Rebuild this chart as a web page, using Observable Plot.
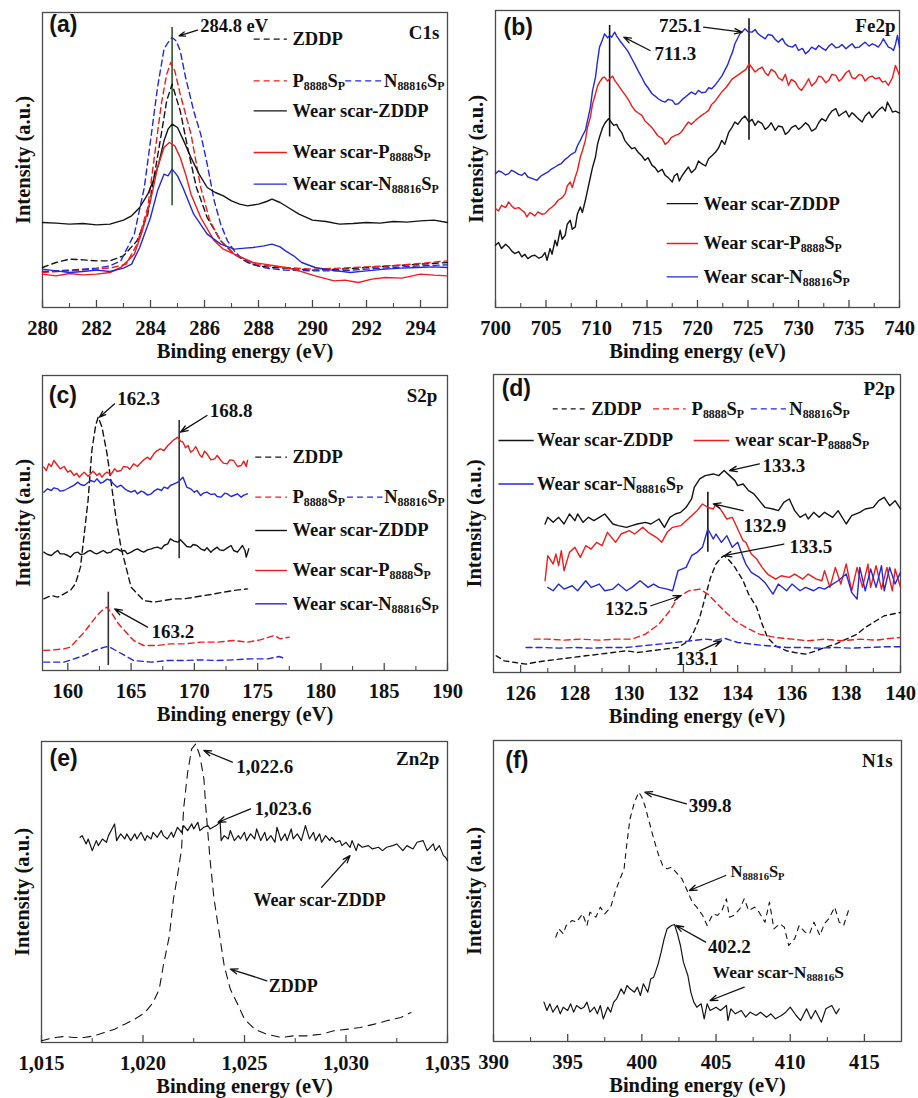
<!DOCTYPE html>
<html><head><meta charset="utf-8">
<script src="https://cdn.jsdelivr.net/npm/d3@7"></script>
<script src="https://cdn.jsdelivr.net/npm/@observablehq/plot@0.6"></script>
<style>
html,body{margin:0;padding:0;background:#fff;}
#fig{position:relative;width:918px;height:1098px;overflow:hidden;background:#fff;}
#fig > svg{position:absolute;overflow:visible;}
#fig svg text, #fig svg tspan{font-family:"Liberation Serif","Times New Roman",serif !important;font-weight:bold;}
</style></head><body><div id="fig"></div>
<script>
// ---------- (a) C1s ----------
const c1s_ZDDP = [[280,120],[280.5,135],[281,145],[281.5,143],[282,140],[282.5,140],[283,155],[283.5,200],[283.9,280],[284.15,400],[284.4,520],[284.6,620],[284.8,670],[285.1,590],[285.4,470],[285.7,360],[286.1,270],[286.6,200],[287.1,160],[287.6,135],[288,125],[288.5,120],[289,118],[290,112],[291,115],[292,120],[293,125],[294,130],[295,135]];
const c1s_P8888SP = [[280,105],[281,110],[282,115],[282.6,120],[283.1,130],[283.5,190],[283.9,300],[284.14,450],[284.4,610],[284.6,700],[284.75,735],[284.9,710],[285.1,640],[285.3,580],[285.5,520],[285.86,360],[286.2,260],[286.6,200],[287.1,160],[287.6,140],[288,128],[289,120],[290,115],[291,118],[292,122],[293,126],[294,132],[295,140]];
const c1s_N88816SP = [[280,108],[281,112],[282,118],[282.5,125],[282.9,140],[283.4,220],[283.77,360],[284.0,500],[284.26,660],[284.5,775],[284.65,795],[284.8,810],[284.95,800],[285.1,770],[285.3,690],[285.6,590],[285.86,520],[286.1,430],[286.36,320],[286.6,250],[286.85,200],[287.1,170],[287.4,145],[287.8,128],[288.3,118],[289,112],[290,110],[291,110],[292,115],[293,120],[294,125],[295,128]];
const c1s_wearZDDP = [[280,255],[280.5,253],[281,250],[281.5,252],[282,248],[282.5,250],[283,262],[283.3,275],[283.6,300],[283.9,340],[284.1,380],[284.3,430],[284.5,500],[284.65,535],[284.8,550],[285.0,540],[285.2,505],[285.5,450],[285.8,400],[286.1,360],[286.4,345],[286.7,335],[287,320],[287.3,310],[287.6,305],[288,310],[288.3,318],[288.5,325],[288.8,315],[289.1,300],[289.5,280],[290,262],[290.5,258],[291,250],[291.5,252],[292,255],[292.5,253],[293,258],[293.5,256],[294,260],[294.5,262],[295,255]];
const c1s_wearP8888SP = [[280,100],[280.5,95],[281,102],[281.5,98],[282,100],[282.5,105],[282.9,120],[283.4,160],[283.7,230],[284.0,320],[284.26,420],[284.5,480],[284.7,495],[284.9,485],[285.1,450],[285.3,400],[285.5,340],[285.86,270],[286.36,200],[286.7,175],[287.1,160],[287.8,135],[288.4,128],[289,120],[289.5,110],[290.1,95],[290.8,80],[291.2,82],[291.7,75],[292.2,85],[292.7,90],[293.3,88],[294,100],[294.5,97],[295,95]];
const c1s_wearN88816SP = [[280,115],[280.5,110],[281,105],[281.5,108],[282,112],[282.5,108],[283,118],[283.3,130],[283.6,180],[284.0,270],[284.26,350],[284.5,400],[284.65,395],[284.8,415],[285.0,395],[285.2,360],[285.6,280],[286.1,220],[286.6,190],[287.1,175],[287.5,178],[287.8,180],[288.2,185],[288.5,190],[288.8,182],[289,170],[289.3,155],[289.6,135],[290.1,120],[290.7,112],[291.4,105],[292,110],[292.7,115],[293.3,118],[293.9,120],[294.5,122],[295,120]];

// ---------- (b) Fe2p ----------
const fe2p_wearZDDP = [[700,187],[700.3,195],[700.6,177],[701,190],[701.3,182],[701.6,170],[701.9,162],[702.3,168],[702.6,152],[702.9,160],[703.2,147],[703.6,155],[703.9,157],[704.3,148],[704.6,152],[704.9,165],[705.1,142],[705.4,177],[705.6,160],[705.9,202],[706.1,185],[706.4,232],[706.6,205],[706.9,217],[707.1,250],[707.4,262],[707.6,235],[707.9,242],[708.1,280],[708.4,302],[708.6,285],[708.9,322],[709.1,350],[709.4,392],[709.6,420],[709.9,452],[710.1,490],[710.3,512],[710.6,540],[710.8,552],[711.0,560],[711.2,567],[711.5,555],[711.7,547],[712.0,550],[712.2,537],[712.5,525],[712.8,502],[713.1,490],[713.5,477],[713.8,480],[714.1,467],[714.5,455],[714.8,442],[715.1,450],[715.5,427],[715.8,420],[716.1,407],[716.5,415],[716.8,397],[717.1,390],[717.5,377],[717.7,395],[718.0,402],[718.2,380],[718.4,392],[718.8,410],[719.1,422],[719.4,405],[719.8,417],[720.1,440],[720.4,432],[720.8,425],[721.1,447],[721.4,455],[721.8,467],[722.1,480],[722.4,502],[722.7,490],[723.1,527],[723.4,540],[723.7,557],[724.0,550],[724.4,567],[724.7,575],[725.1,557],[725.4,565],[725.7,547],[726.0,560],[726.4,552],[726.7,535],[727.0,542],[727.3,555],[727.7,532],[728.0,545],[728.4,542],[728.7,520],[729.0,527],[729.3,540],[729.7,547],[730.0,535],[730.3,542],[730.7,555],[731.0,547],[731.3,530],[731.7,537],[732.0,555],[732.3,567],[732.7,560],[733.0,577],[733.3,590],[733.7,597],[734.0,575],[734.3,582],[734.7,590],[735.0,572],[735.3,585],[735.6,577],[736.0,565],[736.3,557],[736.6,575],[737.0,587],[737.3,570],[737.6,582],[738.0,595],[738.3,602],[738.6,590],[738.8,617],[739.1,600],[739.3,587],[739.6,590],[740,584]];
const fe2p_wearP8888SP = [[700,297],[700.3,290],[700.6,307],[701.0,300],[701.3,317],[701.6,305],[701.9,297],[702.3,300],[702.6,292],[702.9,285],[703.1,272],[703.4,285],[703.6,282],[703.9,275],[704.2,287],[704.6,280],[704.9,282],[705.3,295],[705.6,302],[705.9,310],[706.2,322],[706.6,330],[706.9,342],[707.1,365],[707.4,377],[707.6,360],[707.9,392],[708.1,410],[708.4,452],[708.6,470],[708.9,502],[709.1,540],[709.4,572],[709.6,610],[709.9,642],[710.1,665],[710.3,677],[710.6,690],[710.8,692],[711.1,680],[711.3,687],[711.6,695],[711.8,682],[712.1,670],[712.5,652],[712.8,640],[713.2,622],[713.5,605],[713.8,592],[714.1,585],[714.5,577],[714.8,560],[715.1,552],[715.5,540],[715.8,527],[716.1,515],[716.5,507],[716.8,490],[717.1,497],[717.4,510],[717.8,517],[718.1,520],[718.4,527],[718.8,545],[719.1,557],[719.4,550],[719.8,562],[720.1,570],[720.4,577],[720.8,585],[721.1,592],[721.4,610],[721.8,622],[722.1,635],[722.4,647],[722.8,660],[723.1,672],[723.4,685],[723.7,692],[724.1,700],[724.4,707],[724.8,715],[725.1,732],[725.4,720],[725.7,707],[726.0,715],[726.4,722],[726.7,705],[727.0,697],[727.3,715],[727.7,707],[728.0,690],[728.4,682],[728.7,700],[729.0,667],[729.3,685],[729.7,677],[730.0,660],[730.3,652],[730.7,670],[731.0,687],[731.3,665],[731.7,677],[732.0,695],[732.3,692],[732.7,675],[733.0,682],[733.3,700],[733.7,697],[734.0,680],[734.3,687],[734.7,705],[735.0,712],[735.3,690],[735.6,687],[736.0,700],[736.3,697],[736.6,680],[737.0,692],[737.3,695],[737.6,687],[738.0,690],[738.3,677],[738.6,680],[738.9,667],[739.3,690],[739.6,727],[740,697]];
const fe2p_wearN88816SP = [[700,402],[700.3,410],[700.6,407],[701.0,398],[701.3,402],[701.6,412],[701.9,407],[702.3,400],[702.6,397],[702.9,405],[703.2,392],[703.6,388],[704.1,382],[704.4,392],[704.6,397],[704.9,402],[705.2,407],[705.5,415],[705.9,422],[706.2,428],[706.5,432],[706.9,445],[707.2,452],[707.5,460],[707.9,467],[708.1,485],[708.4,502],[708.6,515],[708.9,532],[709.1,560],[709.4,602],[709.6,650],[709.9,692],[710.1,740],[710.3,782],[710.6,805],[710.8,822],[711.1,810],[711.3,817],[711.5,812],[711.8,827],[712.0,815],[712.3,802],[712.6,790],[712.8,782],[713.1,770],[713.5,747],[713.8,730],[714.1,712],[714.5,690],[714.8,672],[715.1,660],[715.5,642],[715.8,635],[716.1,627],[716.5,620],[716.8,617],[717.1,625],[717.5,622],[717.8,610],[718.1,612],[718.5,625],[718.8,632],[719.1,640],[719.4,647],[719.8,640],[720.1,652],[720.4,645],[720.8,647],[721.1,660],[721.4,657],[721.8,670],[722.1,682],[722.4,695],[722.7,712],[723.0,730],[723.2,747],[723.5,770],[723.7,792],[724.0,810],[724.2,822],[724.5,830],[724.7,837],[725.0,828],[725.4,827],[725.7,835],[726.0,822],[726.3,815],[726.7,807],[727.0,820],[727.4,817],[727.7,805],[728.0,797],[728.4,808],[728.7,792],[729.0,785],[729.4,782],[729.7,790],[730.0,772],[730.4,778],[730.7,762],[731.0,770],[731.3,782],[731.7,775],[732.0,787],[732.3,780],[732.7,772],[733.0,785],[733.3,792],[733.7,780],[734.0,782],[734.3,790],[734.7,777],[735.0,785],[735.3,792],[735.6,780],[736.0,782],[736.3,790],[736.6,797],[737.0,785],[737.3,792],[737.6,788],[737.9,782],[738.2,795],[738.4,807],[738.7,792],[738.9,782],[739.2,778],[739.4,772],[739.6,790],[739.8,817],[740,782]];

// ---------- (c) S2p ----------
const s2p_ZDDP = [[158.1,215],[158.7,225],[159.2,220],[159.7,230],[160.2,240],[160.6,260],[161.0,310],[161.3,410],[161.6,510],[161.9,660],[162.2,735],[162.4,760],[162.7,730],[163.1,650],[163.4,570],[163.8,460],[164.2,370],[164.6,310],[165.0,250],[165.5,230],[166.0,210],[166.8,205],[167.6,210],[168.4,215],[169.2,215],[170.0,220],[170.8,225],[171.6,230],[172.3,235],[173.1,240],[174.2,245]];
const s2p_P8888SP = [[158.1,60],[158.9,62],[159.7,65],[160.2,70],[160.8,95],[161.3,115],[161.8,140],[162.3,165],[162.7,180],[163.1,190],[163.5,170],[164.0,140],[164.6,115],[165.2,90],[166.0,75],[167.1,75],[168.1,80],[169.2,80],[170.5,85],[171.8,85],[173.1,90],[174.2,85],[175.2,92],[176.3,105],[176.8,95],[177.5,100]];
const s2p_N88816SP = [[158.1,25],[158.9,25],[159.7,25],[160.5,35],[161.3,45],[162.1,60],[162.9,70],[163.2,72],[163.8,60],[164.5,45],[165.2,30],[166.6,25],[167.9,30],[169.2,30],[170.5,32],[171.8,30],[173.1,32],[174.5,35],[175.8,35],[176.7,42],[177.2,35]];
const s2p_wearZDDP = [[158.1,355],[158.4,348],[158.7,345],[158.9,352],[159.2,360],[159.4,350],[159.7,350],[160.0,345],[160.2,340],[160.5,352],[160.8,355],[161.0,348],[161.3,350],[161.6,358],[161.8,360],[162.1,352],[162.3,350],[162.6,356],[162.8,360],[163.1,352],[163.4,355],[163.6,362],[163.9,365],[164.2,358],[164.5,360],[164.7,350],[165.0,355],[165.3,362],[165.5,365],[165.8,358],[166.0,355],[166.3,362],[166.6,365],[166.8,368],[167.1,370],[167.4,365],[167.6,375],[167.9,380],[168.1,395],[168.4,388],[168.7,385],[168.9,392],[169.2,380],[169.4,372],[169.7,370],[169.9,378],[170.2,375],[170.5,365],[170.8,360],[171.0,368],[171.3,355],[171.5,362],[171.8,370],[172.0,362],[172.3,360],[172.6,368],[172.9,375],[173.1,360],[173.4,355],[173.6,365],[173.8,375],[174.0,360],[174.1,340],[174.3,365]];
const s2p_wearP8888SP = [[158.1,610],[158.3,600],[158.5,620],[158.7,612],[158.9,630],[159.2,615],[159.4,605],[159.7,612],[160.0,595],[160.2,600],[160.5,585],[160.7,592],[160.9,580],[161.1,588],[161.3,595],[161.6,583],[161.8,590],[162.0,598],[162.3,585],[162.5,592],[162.7,580],[162.9,590],[163.1,595],[163.4,588],[163.7,605],[163.9,597],[164.2,600],[164.4,612],[164.7,610],[164.9,604],[165.2,620],[165.5,612],[165.8,625],[166.0,632],[166.3,640],[166.5,633],[166.8,650],[167.0,658],[167.3,665],[167.6,660],[167.9,675],[168.1,682],[168.3,690],[168.5,695],[168.7,700],[168.9,688],[169.1,685],[169.3,668],[169.5,675],[169.7,655],[169.9,660],[170.1,672],[170.2,665],[170.4,648],[170.6,640],[170.8,658],[171.0,650],[171.3,632],[171.6,635],[171.8,645],[172.1,630],[172.3,622],[172.6,620],[172.8,632],[173.1,630],[173.4,612],[173.7,615],[173.9,628],[174.1,612],[174.2,630]];
const s2p_wearN88816SP = [[158.1,535],[158.4,545],[158.7,540],[158.9,548],[159.2,545],[159.4,538],[159.7,540],[160.0,546],[160.2,550],[160.5,556],[160.8,565],[161.0,558],[161.3,555],[161.6,564],[161.8,570],[162.1,566],[162.3,575],[162.6,562],[162.8,565],[163.1,574],[163.4,570],[163.6,560],[163.9,550],[164.2,556],[164.5,545],[164.7,540],[165.0,535],[165.3,540],[165.5,530],[165.8,538],[166.0,535],[166.3,526],[166.6,530],[166.8,538],[167.1,545],[167.4,540],[167.6,550],[167.9,546],[168.1,555],[168.4,560],[168.7,565],[168.9,572],[169.1,580],[169.3,560],[169.4,550],[169.7,545],[170.0,535],[170.2,540],[170.5,525],[170.7,532],[171.0,535],[171.3,528],[171.6,530],[171.8,522],[172.1,520],[172.4,532],[172.6,530],[172.9,522],[173.1,525],[173.4,530],[173.7,520],[173.9,526],[174.2,530]];

// ---------- (d) P2p ----------
const p2p_ZDDP = [[125.1,50],[125.4,35],[125.8,30],[126.2,25],[126.5,30],[126.9,35],[127.4,40],[127.9,45],[128.4,50],[128.9,55],[129.4,60],[129.9,65],[130.3,60],[130.8,65],[131.3,70],[131.8,75],[132.2,95],[132.4,125],[132.6,165],[132.8,225],[133.0,285],[133.2,325],[133.4,345],[133.5,350],[133.7,335],[133.9,315],[134.2,275],[134.4,235],[134.7,195],[134.9,145],[135.1,105],[135.4,80],[135.8,65],[136.1,60],[136.5,55],[136.9,65],[137.2,75],[137.6,85],[138.0,100],[138.4,115],[138.7,135],[139.1,155],[139.4,170],[140.0,180]];
const p2p_P8888SP = [[126.5,100],[127.0,100],[127.6,97],[128.2,100],[128.9,97],[129.5,100],[130.1,100],[130.6,115],[131.1,145],[131.5,185],[131.8,225],[132.2,245],[132.6,250],[132.9,235],[133.2,210],[133.5,185],[133.9,155],[134.3,135],[134.8,115],[135.4,105],[136.0,100],[136.6,95],[137.2,100],[137.8,95],[138.5,100],[139.1,97],[139.7,103],[140.0,105]];
const p2p_N88816SP = [[126.2,75],[126.8,75],[127.4,73],[128.0,75],[128.6,73],[129.2,75],[129.9,75],[130.5,80],[131.1,85],[131.7,90],[132.3,95],[132.8,100],[133.2,97],[133.5,103],[134.0,90],[134.5,85],[135.1,80],[135.8,75],[136.4,75],[137.0,73],[137.6,75],[138.2,73],[138.8,75],[139.4,77],[140.0,77]];
const p2p_wearZDDP = [[126.9,445],[127.0,465],[127.2,450],[127.4,465],[127.6,445],[127.8,475],[128.0,455],[128.1,475],[128.3,450],[128.5,465],[128.7,455],[128.9,465],[129.1,475],[129.4,445],[129.6,440],[129.9,435],[130.1,440],[130.3,445],[130.6,450],[130.8,445],[131.1,460],[131.3,435],[131.5,465],[131.7,475],[131.9,480],[132.1,495],[132.3,520],[132.4,555],[132.6,580],[132.8,590],[133.1,595],[133.3,590],[133.5,605],[133.7,590],[133.9,575],[134.0,560],[134.2,565],[134.4,545],[134.6,535],[134.8,515],[135.0,495],[135.3,490],[135.5,485],[135.7,510],[135.9,520],[136.1,485],[136.3,465],[136.5,475],[136.6,460],[136.8,480],[137.0,465],[137.2,480],[137.5,465],[137.7,485],[138.0,445],[138.2,470],[138.5,480],[138.7,490],[139.0,495],[139.2,515],[139.4,525],[139.6,500],[139.8,515],[140.0,490]];
const p2p_wearP8888SP = [[126.9,275],[127.0,350],[127.2,325],[127.3,355],[127.4,320],[127.5,365],[127.6,305],[127.8,360],[128.0,375],[128.2,345],[128.4,380],[128.6,370],[128.8,390],[129.0,380],[129.2,420],[129.5,390],[129.7,415],[130.0,425],[130.2,415],[130.5,435],[130.7,420],[131.0,405],[131.2,390],[131.4,420],[131.6,435],[131.9,440],[132.1,455],[132.3,470],[132.5,485],[132.7,505],[132.9,495],[133.1,490],[133.2,505],[133.4,485],[133.6,460],[133.8,465],[134.0,430],[134.2,395],[134.3,390],[134.5,355],[134.7,340],[134.9,315],[135.1,295],[135.4,280],[135.6,290],[135.9,285],[136.1,295],[136.4,280],[136.6,295],[136.9,280],[137.1,275],[137.2,305],[137.4,255],[137.6,315],[137.8,265],[138.0,325],[138.2,245],[138.4,315],[138.6,255],[138.8,325],[138.9,255],[139.1,320],[139.3,250],[139.5,315],[139.7,245],[139.8,310],[140.0,255]];
const p2p_wearN88816SP = [[127.0,255],[127.2,245],[127.4,265],[127.6,250],[127.9,260],[128.1,245],[128.4,275],[128.6,255],[128.9,265],[129.1,245],[129.4,250],[129.6,265],[129.9,245],[130.1,255],[130.4,275],[130.7,255],[130.9,265],[131.1,255],[131.4,250],[131.6,245],[131.8,305],[132.1,315],[132.3,350],[132.5,360],[132.7,375],[132.9,430],[133.1,400],[133.2,415],[133.4,390],[133.6,410],[133.8,375],[134.0,390],[134.2,345],[134.3,325],[134.5,300],[134.8,285],[135.0,270],[135.3,235],[135.5,265],[135.8,245],[136.0,265],[136.3,245],[136.5,255],[136.8,245],[137.0,255],[137.2,250],[137.5,265],[137.7,275],[138.0,295],[138.2,240],[138.4,220],[138.5,315],[138.7,245],[138.9,310],[139.1,255],[139.3,320],[139.4,245],[139.6,315],[139.8,265],[140.0,300]];

// ---------- (e) Zn2p ----------
const zn2p_ZDDP = [[1015.0,5],[1015.3,10],[1015.7,15],[1016.1,18],[1016.6,15],[1017.1,15],[1017.6,20],[1018.1,30],[1018.6,40],[1019.1,55],[1019.6,70],[1020.1,90],[1020.5,120],[1020.8,160],[1021.0,230],[1021.3,320],[1021.5,430],[1021.7,500],[1021.9,580],[1022.0,700],[1022.2,810],[1022.4,880],[1022.6,895],[1022.8,860],[1023.0,790],[1023.1,700],[1023.3,550],[1023.5,430],[1023.8,310],[1024.0,230],[1024.3,160],[1024.7,110],[1025.0,70],[1025.5,40],[1026.1,25],[1026.8,15],[1027.4,20],[1028.1,20],[1028.8,25],[1029.4,35],[1030.1,40],[1030.7,45],[1031.4,55],[1032.0,65],[1032.7,75],[1033.2,90]];
const zn2p_wearZDDP = [[1016.9,615],[1017.0,620],[1017.2,595],[1017.3,610],[1017.5,575],[1017.7,605],[1017.8,590],[1018.0,610],[1018.2,600],[1018.3,620],[1018.6,655],[1018.7,605],[1018.9,625],[1019.1,610],[1019.2,625],[1019.4,605],[1019.6,625],[1019.7,610],[1019.9,630],[1020.1,605],[1020.2,620],[1020.4,610],[1020.5,630],[1020.7,615],[1020.9,635],[1021.0,620],[1021.2,610],[1021.4,630],[1021.5,615],[1021.7,645],[1021.9,630],[1022.0,650],[1022.2,635],[1022.4,655],[1022.5,640],[1022.7,660],[1022.8,635],[1023.0,645],[1023.2,650],[1023.3,640],[1023.6,650],[1023.8,660],[1023.85,605],[1024.0,620],[1024.2,610],[1024.3,635],[1024.5,605],[1024.7,620],[1024.8,610],[1025.0,630],[1025.1,605],[1025.3,625],[1025.5,610],[1025.6,640],[1025.8,605],[1026.0,630],[1026.1,605],[1026.3,620],[1026.5,600],[1026.6,645],[1026.8,605],[1027.0,625],[1027.1,605],[1027.3,640],[1027.4,610],[1027.6,625],[1027.8,605],[1028.0,650],[1028.2,610],[1028.4,630],[1028.5,605],[1028.7,625],[1028.8,600],[1029.0,620],[1029.2,605],[1029.3,615],[1029.5,600],[1029.7,605],[1029.8,590],[1030.0,600],[1030.2,585],[1030.3,605],[1030.5,575],[1030.6,595],[1030.8,585],[1031.1,590],[1031.3,580],[1031.6,585],[1031.8,575],[1032.0,585],[1032.3,590],[1032.5,595],[1032.8,575],[1033.0,590],[1033.3,580],[1033.5,600],[1033.8,605],[1034.0,575],[1034.3,595],[1034.4,575],[1034.6,590],[1034.8,560],[1034.9,555],[1035.0,545]];

// ---------- (f) N1s ----------
const n1s_N88816SP = [[394.2,313],[394.4,338],[394.7,323],[394.9,348],[395.3,363],[395.6,358],[396.0,383],[396.3,348],[396.5,388],[396.9,373],[397.2,403],[397.5,383],[397.9,403],[398.2,448],[398.4,473],[398.8,518],[399.0,598],[399.2,668],[399.5,718],[399.8,748],[400.0,733],[400.2,708],[400.5,658],[400.8,608],[401.1,563],[401.4,528],[401.7,518],[402.0,523],[402.4,503],[402.7,488],[403.0,458],[403.4,418],[403.7,403],[404.1,378],[404.4,348],[404.8,383],[405.1,378],[405.4,393],[405.7,428],[405.9,373],[406.2,378],[406.6,398],[406.9,428],[407.2,393],[407.6,403],[407.9,388],[408.3,358],[408.6,418],[408.9,338],[409.3,353],[409.6,343],[409.9,288],[410.3,308],[410.6,348],[411.0,328],[411.3,323],[411.6,358],[412.0,318],[412.3,353],[412.6,368],[413.0,403],[413.3,358],[413.6,348],[414.0,403]];
const n1s_wearN88816S = [[393.4,118],[393.6,93],[393.8,113],[394.0,88],[394.3,108],[394.5,83],[394.7,103],[395.0,93],[395.2,113],[395.4,88],[395.6,108],[395.9,98],[396.1,103],[396.3,118],[396.5,88],[396.8,103],[397.0,83],[397.2,108],[397.4,68],[397.7,103],[397.9,88],[398.1,118],[398.3,128],[398.6,158],[398.8,143],[399.0,168],[399.2,158],[399.5,148],[399.7,163],[399.9,138],[400.1,173],[400.4,148],[400.6,188],[400.8,193],[401.1,233],[401.3,268],[401.5,308],[401.7,338],[402.0,348],[402.2,351],[402.4,323],[402.6,288],[402.8,238],[403.1,198],[403.3,148],[403.5,118],[403.7,103],[404.0,113],[404.2,68],[404.4,113],[404.6,93],[405.0,103],[405.3,93],[405.7,108],[405.8,63],[406.0,98],[406.3,83],[406.7,93],[407.0,73],[407.3,88],[407.7,78],[408.0,88],[408.4,73],[408.7,83],[409.0,68],[409.4,78],[409.7,88],[410.0,103],[410.4,78],[410.7,63],[411.1,98],[411.4,68],[411.7,93],[412.1,58],[412.4,98],[412.8,108],[413.1,83],[413.3,98]];

// ---------- styling ----------
const RED = "#ee1c1c", BLUE = "#2329d8", BLACK = "#141414";
const SERIF = '"Liberation Serif", "Times New Roman", serif';
const SANS = '"Liberation Sans", Arial, sans-serif';
const range = (a, b, s) => d3.range(a, b + s / 2, s);

const panels = [
  {
    left: 0, top: 0, width: 459, height: 362, m: [12, 12, 55, 42],
    xDomain: [280, 295], yMax: 885, majors: range(280, 294, 2), minors: range(281, 295, 2), fmt: d => d,
    series: [
      {data: c1s_ZDDP, color: BLACK, dash: "6,4"},
      {data: c1s_P8888SP, color: RED, dash: "6,4"},
      {data: c1s_N88816SP, color: BLUE, dash: "6,4"},
      {data: c1s_wearZDDP, color: BLACK},
      {data: c1s_wearP8888SP, color: RED},
      {data: c1s_wearN88816SP, color: BLUE}
    ],
    vlines: [{x: 284.8, y1: 305, y2: 840, color: "#2f5530"}],
    notes: [{x: 287.1, y: 845, text: "284.8 eV", size: 18.5}],
    arrows: [{x1: 285.74, y1: 832, x2: 285.06, y2: 815}],
    legend: [
      {x1: 287.84, x2: 289.07, tx: 289.26, y: 805, color: BLACK, dash: "6,4", label: "ZDDP"},
      {x1: 287.84, x2: 289.07, tx: 289.26, y: 680, color: RED, dash: "6,4", label: "P_{8888}S_{P}"},
      {x1: 291.23, x2: 292.6, tx: 292.65, y: 680, color: BLUE, dash: "6,4", label: "N_{88816}S_{P}"},
      {x1: 287.84, x2: 289.07, tx: 289.26, y: 590, color: BLACK, label: "Wear scar-ZDDP"},
      {x1: 287.84, x2: 289.07, tx: 289.26, y: 465, color: RED, label: "Wear scar-P_{8888}S_{P}"},
      {x1: 287.84, x2: 289.07, tx: 289.26, y: 370, color: BLUE, label: "Wear scar-N_{88816}S_{P}"}
    ],
    corner: {x: 280.25, y: 850, text: "(a)"}, element: {x: 294.7, y: 825, text: "C1s"}
  },
  {
    left: 459, top: 0, width: 459, height: 362, m: [10, 19, 55, 36],
    xDomain: [700, 740], yMax: 892, majors: range(700, 740, 5), minors: range(702.5, 737.5, 5), fmt: d => d,
    series: [
      {data: fe2p_wearZDDP, color: BLACK},
      {data: fe2p_wearP8888SP, color: RED},
      {data: fe2p_wearN88816SP, color: BLUE}
    ],
    vlines: [{x: 711.3, y1: 512, y2: 847, color: BLACK}, {x: 725.1, y1: 502, y2: 867, color: BLACK}],
    notes: [{x: 717.8, y: 762, text: "711.3"}, {x: 718.3, y: 847, text: "725.1"}],
    arrows: [{x1: 715.3, y1: 772, x2: 712.7, y2: 812}, {x1: 720.6, y1: 842, x2: 724.4, y2: 827}],
    legend: [
      {x1: 717.0, x2: 720.1, tx: 720.6, y: 312, color: BLACK, label: "Wear scar-ZDDP"},
      {x1: 717.0, x2: 720.1, tx: 720.6, y: 192, color: RED, label: "Wear scar-P_{8888}S_{P}"},
      {x1: 717.0, x2: 720.1, tx: 720.6, y: 92, color: BLUE, label: "Wear scar-N_{88816}S_{P}"}
    ],
    corner: {x: 700.8, y: 842, text: "(b)"}, element: {x: 739.6, y: 847, text: "Fe2p"}
  },
  {
    left: 0, top: 362, width: 459, height: 363, m: [13, 12, 55, 42],
    xDomain: [158, 190], yMax: 885, majors: range(160, 190, 5), minors: range(162.5, 187.5, 5), fmt: d => d,
    series: [
      {data: s2p_ZDDP, color: BLACK, dash: "6,4"},
      {data: s2p_P8888SP, color: RED, dash: "6,4"},
      {data: s2p_N88816SP, color: BLUE, dash: "6,4"},
      {data: s2p_wearZDDP, color: BLACK},
      {data: s2p_wearP8888SP, color: RED},
      {data: s2p_wearN88816SP, color: BLUE}
    ],
    vlines: [{x: 168.8, y1: 335, y2: 750, color: "#333"}, {x: 163.2, y1: 15, y2: 235, color: "#333"}],
    notes: [{x: 165.6, y: 815, text: "162.3"}, {x: 172.9, y: 780, text: "168.8"}, {x: 168.3, y: 115, text: "163.2"}],
    arrows: [{x1: 163.7, y1: 800, x2: 162.5, y2: 760}, {x1: 171.0, y1: 765, x2: 168.9, y2: 715}, {x1: 166.3, y1: 130, x2: 163.7, y2: 185}],
    legend: [
      {x1: 174.85, x2: 177.35, tx: 177.75, y: 640, color: BLACK, dash: "6,4", label: "ZDDP"},
      {x1: 174.85, x2: 177.35, tx: 177.75, y: 520, color: RED, dash: "6,4", label: "P_{8888}S_{P}"},
      {x1: 182.1, x2: 184.9, tx: 185.0, y: 520, color: BLUE, dash: "6,4", label: "N_{88816}S_{P}"},
      {x1: 174.85, x2: 177.35, tx: 177.75, y: 420, color: BLACK, label: "Wear scar-ZDDP"},
      {x1: 174.85, x2: 177.35, tx: 177.75, y: 300, color: RED, label: "Wear scar-P_{8888}S_{P}"},
      {x1: 174.85, x2: 177.35, tx: 177.75, y: 200, color: BLUE, label: "Wear scar-N_{88816}S_{P}"}
    ],
    corner: {x: 158.5, y: 825, text: "(c)"}, element: {x: 189.2, y: 825, text: "S2p"}
  },
  {
    left: 459, top: 362, width: 459, height: 363, m: [12, 18, 53, 34],
    xDomain: [125, 140], yMax: 893, majors: range(126, 140, 2), minors: range(125, 139, 2), fmt: d => d,
    series: [
      {data: p2p_ZDDP, color: BLACK, dash: "5,4"},
      {data: p2p_P8888SP, color: RED, dash: "6,4"},
      {data: p2p_N88816SP, color: BLUE, dash: "6,4"},
      {data: p2p_wearZDDP, color: BLACK},
      {data: p2p_wearP8888SP, color: RED},
      {data: p2p_wearN88816SP, color: BLUE}
    ],
    vlines: [{x: 132.9, y1: 360, y2: 540, color: BLACK}],
    notes: [{x: 135.7, y: 620, text: "133.3"}, {x: 135.0, y: 440, text: "132.9"}, {x: 136.7, y: 375, text: "133.5"}, {x: 129.9, y: 190, text: "132.5"}, {x: 132.5, y: 40, text: "133.1"}],
    arrows: [{x1: 134.8, y1: 625, x2: 133.7, y2: 605}, {x1: 134.2, y1: 485, x2: 133.1, y2: 505}, {x1: 135.7, y1: 385, x2: 133.5, y2: 350}, {x1: 130.8, y1: 200, x2: 131.9, y2: 230}, {x1: 132.6, y1: 65, x2: 133.4, y2: 95}],
    legend: [
      {x1: 127.2, x2: 128.5, tx: 128.6, y: 790, color: BLACK, dash: "5,4", label: "ZDDP"},
      {x1: 130.9, x2: 132.1, tx: 132.3, y: 790, color: RED, dash: "6,4", label: "P_{8888}S_{P}"},
      {x1: 134.5, x2: 135.8, tx: 135.9, y: 790, color: BLUE, dash: "6,4", label: "N_{88816}S_{P}"},
      {x1: 125.2, x2: 126.5, tx: 126.6, y: 695, color: BLACK, label: "Wear scar-ZDDP"},
      {x1: 132.4, x2: 133.7, tx: 133.9, y: 695, color: RED, label: "wear scar-P_{8888}S_{P}"},
      {x1: 125.2, x2: 126.5, tx: 126.6, y: 565, color: BLUE, label: "Wear scar-N_{88816}S_{P}"}
    ],
    corner: {x: 125.3, y: 850, text: "(d)"}, element: {x: 139.8, y: 850, text: "P2p"}
  },
  {
    left: 0, top: 725, width: 459, height: 373, m: [16, 12, 56, 41],
    xDomain: [1015, 1035], yMax: 902, majors: range(1015, 1035, 5), minors: range(1017.5, 1032.5, 5), fmt: d3.format(","),
    series: [
      {data: zn2p_ZDDP, color: BLACK, dash: "8,6", width: 1.1},
      {data: zn2p_wearZDDP, color: BLACK, width: 1.2}
    ],
    vlines: [],
    notes: [{x: 1026.0, y: 825, text: "1,022.6"}, {x: 1026.9, y: 700, text: "1,023.6"}, {x: 1028.7, y: 425, text: "Wear scar-ZDDP", size: 18}, {x: 1027.4, y: 170, text: "ZDDP", size: 18}],
    arrows: [{x1: 1024.4, y1: 840, x2: 1023.0, y2: 875}, {x1: 1025.3, y1: 700, x2: 1023.7, y2: 660}, {x1: 1028.8, y1: 465, x2: 1030.2, y2: 560}, {x1: 1026.1, y1: 185, x2: 1024.3, y2: 220}],
    legend: [],
    corner: {x: 1015.4, y: 850, text: "(e)"}, element: {x: 1034.6, y: 850, text: "Zn2p"}
  },
  {
    left: 459, top: 725, width: 459, height: 373, m: [15, 17, 57, 34],
    xDomain: [390, 417.5], yMax: 903, majors: range(390, 415, 5), minors: range(392.5, 412.5, 5), fmt: d => d,
    series: [
      {data: n1s_N88816SP, color: BLACK, dash: "5,5", width: 1.1},
      {data: n1s_wearN88816S, color: BLACK, width: 1.2}
    ],
    vlines: [],
    notes: [{x: 404.6, y: 708, text: "399.8"}, {x: 407.8, y: 508, text: "N_{88816}S_{P}", size: 16.5}, {x: 405.9, y: 283, text: "402.2"}, {x: 409.2, y: 208, text: "Wear scar-N_{88816}S", size: 17.5}],
    arrows: [{x1: 403.0, y1: 713, x2: 400.2, y2: 748}, {x1: 405.65, y1: 498, x2: 403.2, y2: 453}, {x1: 404.3, y1: 298, x2: 402.3, y2: 348}, {x1: 406.9, y1: 163, x2: 404.6, y2: 123}],
    legend: [],
    corner: {x: 390.8, y: 843, text: "(f)"}, element: {x: 416.9, y: 843, text: "N1s"}
  }
];

function applySubs(svg) {
  d3.select(svg).selectAll("text").each(function () {
    const el = this, t = el.textContent;
    if (/^\([a-f]\)$/.test(t)) { el.style.setProperty("font-family", SANS, "important"); return; }
    if (!t.includes("_{")) return;
    const fs = parseFloat(getComputedStyle(el).fontSize) || 18;
    while (el.firstChild) el.removeChild(el.firstChild);
    const re = /_\{([^}]*)\}/g;
    let last = 0, m, shifted = false;
    const add = (str, sub) => {
      if (!str) return;
      const ts = document.createElementNS("http://www.w3.org/2000/svg", "tspan");
      ts.textContent = str;
      let dy = 0;
      if (sub && !shifted) { dy = 0.16 * fs; shifted = true; }
      else if (!sub && shifted) { dy = -0.16 * fs; shifted = false; }
      if (dy) ts.setAttribute("dy", dy);
      if (sub) ts.setAttribute("font-size", 0.64 * fs);
      el.appendChild(ts);
    };
    while ((m = re.exec(t))) { add(t.slice(last, m.index), false); add(m[1], true); last = re.lastIndex; }
    add(t.slice(last), false);
  });
}

const fig = document.getElementById("fig");
for (const p of panels) {
  const innerH = p.height - p.m[0] - p.m[2];
  const k = p.yMax / innerH;
  const marks = [
    Plot.frame({stroke: "#4a4a4a", strokeWidth: 1.3}),
    Plot.ruleX(p.majors, {y1: 0, y2: 7 * k, stroke: "#4a4a4a", strokeWidth: 1.3}),
    Plot.ruleX(p.minors, {y1: 0, y2: 4 * k, stroke: "#4a4a4a", strokeWidth: 1.1}),
    Plot.axisX(p.majors, {tickSize: 0, tickPadding: 13, tickFormat: p.fmt, label: "Binding energy (eV)", labelAnchor: "center", labelArrow: "none", labelOffset: 50}),
    Plot.axisY([], {tickSize: 0, label: "Intensity (a.u.)", labelAnchor: "center", labelArrow: "none", labelOffset: 27})
  ];
  for (const v of p.vlines) marks.push(Plot.ruleX([v.x], {y1: v.y1, y2: v.y2, stroke: v.color, strokeWidth: 1.6}));
  for (const s of p.series) marks.push(Plot.line(s.data, {x: d => d[0], y: d => d[1], stroke: s.color, strokeWidth: s.width || 1.4, strokeDasharray: s.dash}));
  for (const L of p.legend) {
    marks.push(Plot.ruleY([L], {y: "y", x1: "x1", x2: "x2", stroke: L.color, strokeWidth: 1.4, strokeDasharray: L.dash}));
    marks.push(Plot.text([L], {x: "tx", y: "y", text: "label", textAnchor: "start", fontSize: 18.5, fontWeight: "bold", fontFamily: SERIF, fill: "#111"}));
  }
  marks.push(Plot.arrow(p.arrows, {x1: "x1", y1: "y1", x2: "x2", y2: "y2", stroke: "#111", strokeWidth: 1.3, headLength: 9, headAngle: 40}));
  for (const n of p.notes) marks.push(Plot.text([n], {x: "x", y: "y", text: "text", textAnchor: "middle", fontSize: n.size || 19, fontWeight: "bold", fontFamily: SERIF, fill: "#111"}));
  marks.push(Plot.text([p.corner], {x: "x", y: "y", text: "text", textAnchor: "start", fontSize: 23, fontWeight: "bold", fontFamily: SANS, fill: "#111"}));
  marks.push(Plot.text([p.element], {x: "x", y: "y", text: "text", textAnchor: "end", fontSize: 19, fontWeight: "bold", fontFamily: SERIF, fill: "#111"}));

  const svg = Plot.plot({
    width: p.width, height: p.height,
    marginTop: p.m[0], marginRight: p.m[1], marginBottom: p.m[2], marginLeft: p.m[3],
    x: {domain: p.xDomain},
    y: {domain: [0, p.yMax]},
    style: {fontFamily: SERIF, fontSize: "20.5px", fontWeight: "bold", color: "#111", background: "transparent", overflow: "visible"},
    marks
  });
  svg.style.left = p.left + "px";
  svg.style.top = p.top + "px";
  fig.appendChild(svg);
  applySubs(svg);
}
</script></body></html>
